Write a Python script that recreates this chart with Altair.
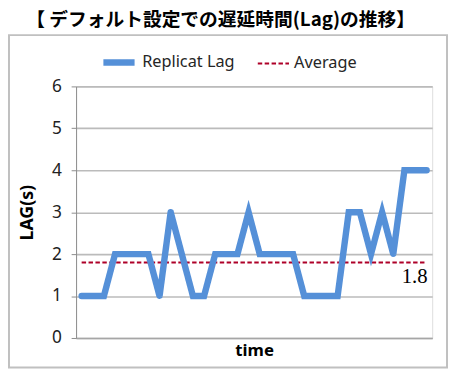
import altair as alt
import pandas as pd

# ---- data ----
t_index = list(range(32))
lag_values = [1, 1, 1, 2, 2, 2, 2, 1, 3, 2, 1, 1, 2, 2, 2, 3,
              2, 2, 2, 2, 1, 1, 1, 1, 3, 3, 2, 3, 2, 4, 4, 4]
average_value = 1.8
series_names = ["Replicat Lag", "Average"]
series_colors = ["#5590D8", "#AE0028"]
y_ticks = [0, 1, 2, 3, 4, 5, 6]
title_text = "【 デフォルト設定での遅延時間(Lag)の推移】"

rows = [{"t": t, "value": v, "series": series_names[0]} for t, v in zip(t_index, lag_values)]
rows += [{"t": t, "value": average_value, "series": series_names[1]} for t in t_index]
df = pd.DataFrame(rows)
label_df = pd.DataFrame({"t": [t_index[-1]], "value": [average_value], "label": [f"{average_value}"]})

W, H = 361, 255

legend = alt.Legend(
    title=None, orient="none", legendX=24, legendY=-44, direction="horizontal",
    symbolType="stroke", symbolSize=1000, labelFont="Noto Sans", labelFontSize=16.5,
    labelColor="#262626", labelOffset=4, columnPadding=18, padding=0,
)

x_enc = alt.X("t:Q", scale=alt.Scale(domain=[-0.5, 31.5], nice=False, zero=False),
              axis=alt.Axis(title="time", labels=False, ticks=False, grid=False,
                            domainColor="#A6A6A6", domainWidth=1.5,
                            titleFont="Noto Sans", titleFontSize=17, titleFontWeight="bold",
                            titleColor="#000000", titlePadding=5))
y_enc = alt.Y("value:Q", scale=alt.Scale(domain=[0, 6], nice=False),
              axis=alt.Axis(title="LAG(s)", values=y_ticks, format="d",
                            titleFont="Noto Sans", titleFontSize=18, titleFontWeight="bold",
                            titleColor="#000000", titlePadding=15,
                            labelFont="Noto Sans", labelFontSize=17.5, labelColor="#222222",
                            labelPadding=10, tickSize=5, tickColor="#8C8C8C",
                            domainColor="#8C8C8C", domainWidth=1,
                            grid=True, gridColor="#BBBBBB", gridWidth=1.6))
color_enc = alt.Color("series:N", scale=alt.Scale(domain=series_names, range=series_colors), legend=legend)
dash_enc = alt.StrokeDash("series:N", scale=alt.Scale(domain=series_names, range=[[1, 0], [4.5, 2.5]]), legend=legend)
width_enc = alt.StrokeWidth("series:N", scale=alt.Scale(domain=series_names, range=[6.5, 2.2]), legend=legend)

base = alt.Chart(df)

border = alt.Chart(alt.Data(values=[{"a": 1}])).mark_rect(
    fillOpacity=0, stroke="#C0C0C0", strokeWidth=2
).encode(x=alt.value(-68), x2=alt.value(376), y=alt.value(-52), y2=alt.value(285))

avg_line = base.transform_filter(alt.datum.series == series_names[1]).mark_line().encode(
    x=x_enc, y=y_enc, color=color_enc, strokeDash=dash_enc, strokeWidth=width_enc,
    detail="series:N")

lag_line = base.transform_filter(alt.datum.series == series_names[0]).mark_line(
    strokeCap="round", strokeJoin="miter").encode(
    x=x_enc, y=y_enc, color=color_enc, strokeDash=dash_enc, strokeWidth=width_enc,
    detail="series:N")

avg_label = alt.Chart(label_df).mark_text(
    font="Liberation Serif", fontSize=21, align="right", baseline="alphabetic",
    dx=1, dy=20.5, color="#000000").encode(x="t:Q", y="value:Q", text="label:N")

chart = alt.layer(border, avg_line, lag_line, avg_label).properties(
    width=W, height=H,
    title=alt.TitleParams(text=title_text, font="Noto Sans CJK JP", fontSize=19,
                          fontWeight="bold", color="#000000", anchor="middle",
                          dx=-34, offset=4),
    autosize=alt.AutoSizeParams(type="none"),
    padding={"left": 69, "top": 77, "right": 16, "bottom": 32},
).configure_view(fill="#F2F2F2", stroke=None).configure(background="#FFFFFF")

chart.save("out.html", embed_options={"renderer": "svg", "actions": False})
